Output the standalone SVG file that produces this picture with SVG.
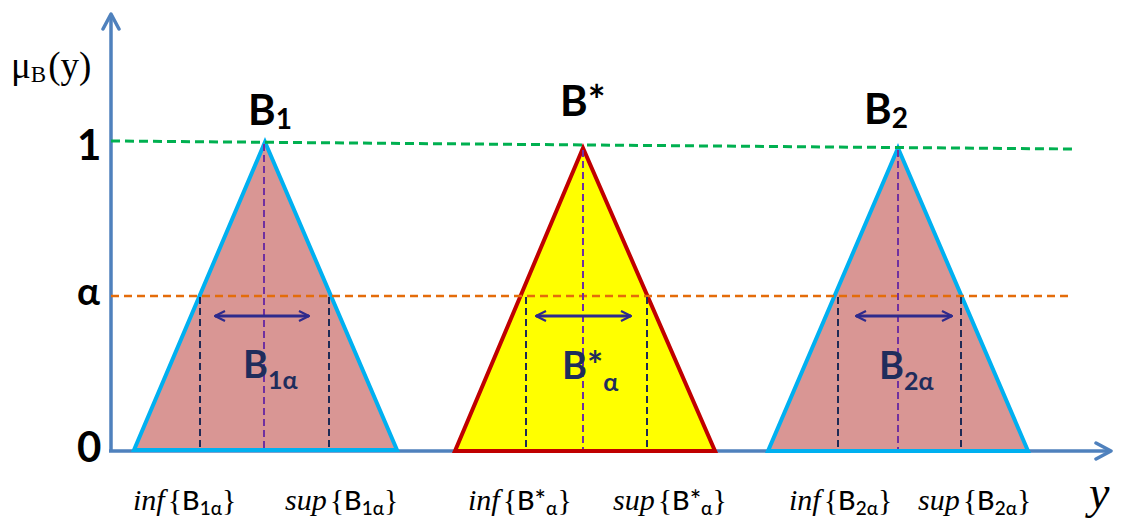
<svg xmlns="http://www.w3.org/2000/svg" width="1121" height="530" viewBox="0 0 1121 530">
<style>
.pink{fill:#d99694;stroke:#00b0f0;stroke-width:4;stroke-linejoin:miter}
.yel{fill:#ffff00;stroke:#c00000;stroke-width:4;stroke-linejoin:miter}
.axis{stroke:#4f81bd;stroke-width:3.5;fill:none}
.green{stroke:#00b050;stroke-width:3;stroke-dasharray:9 5;fill:none}
.orange{stroke:#e46c0a;stroke-width:2.5;stroke-dasharray:8 5;fill:none}
.mid{stroke:#7030a0;stroke-width:2;stroke-dasharray:7 4;fill:none}
.cut{stroke:#1f2a55;stroke-width:2;stroke-dasharray:7 4;fill:none}
.dbl{stroke:#2e2a8c;stroke-width:3;fill:none;marker-start:url(#ah);marker-end:url(#ah)}
.sans{font-family:Lato,"Open Sans",sans-serif;font-weight:bold}
.reg{font-family:Lato,"Open Sans",sans-serif;font-weight:500}
.serif{font-family:"Liberation Serif",serif}
.lab{fill:#000}
.inner{fill:#1f2d5c}
</style>
<defs>
<marker id="ah" viewBox="0 0 12 12" refX="11" refY="6" markerWidth="12" markerHeight="12" markerUnits="userSpaceOnUse" orient="auto-start-reverse">
<path d="M1,1 L11,6 L1,11" fill="none" stroke="#2e2a8c" stroke-width="2.2"/>
</marker>
<marker id="ax" viewBox="0 0 20 20" refX="18" refY="10" markerWidth="20" markerHeight="20" markerUnits="userSpaceOnUse" orient="auto">
<path d="M3,2 L18,10 L3,18" fill="none" stroke="#4f81bd" stroke-width="3.5" stroke-linecap="round" stroke-linejoin="round"/>
</marker>
</defs>

<g id="axes">
<line class="axis" x1="111" y1="451" x2="111" y2="14" marker-end="url(#ax)"/>
<line class="axis" x1="109" y1="451" x2="1111" y2="451" marker-end="url(#ax)"/>
</g>

<g id="B1">
<polygon class="pink" points="265,142 134,450 397,450"/>
</g>
<g id="Bstar">
<polygon class="yel" points="583,148 455,451 715,451"/>
</g>
<g id="B2">
<polygon class="pink" points="898,148 768,451 1028,451"/>
</g>

<g id="connectors">
<line class="green" x1="111" y1="141" x2="1073" y2="149"/>
<line class="orange" x1="111" y1="296" x2="1073" y2="296"/>
<line class="mid" x1="264" y1="144" x2="264" y2="449"/>
<line class="mid" x1="583" y1="150" x2="583" y2="449"/>
<line class="mid" x1="898" y1="150" x2="898" y2="449"/>
<line class="cut" x1="200" y1="297" x2="200" y2="449"/>
<line class="cut" x1="329" y1="297" x2="329" y2="449"/>
<line class="cut" x1="526" y1="297" x2="526" y2="449"/>
<line class="cut" x1="647" y1="297" x2="647" y2="449"/>
<line class="cut" x1="838" y1="297" x2="838" y2="449"/>
<line class="cut" x1="961" y1="297" x2="961" y2="449"/>
<line class="dbl" x1="215" y1="316" x2="309" y2="316"/>
<line class="dbl" x1="536" y1="316" x2="631" y2="316"/>
<line class="dbl" x1="856" y1="316" x2="952" y2="316"/>
</g>

<g id="axis-labels">
<text class="serif lab" x="11" y="78" font-size="37">μ<tspan font-size="23" dy="4">B</tspan><tspan dy="-4" dx="2">(y)</tspan></text>
<text class="sans lab" x="77" y="160" font-size="42">1</text>
<text class="sans lab" x="77" y="305" font-size="38">α</text>
<text class="sans lab" x="77" y="462" font-size="42">0</text>
<text class="serif lab" x="1089" y="508" font-size="46" font-style="italic">y</text>
</g>

<g id="titles">
<text class="sans lab" x="248" y="125" font-size="42">B<tspan font-size="28" dy="4">1</tspan></text>
<text class="sans lab" x="560" y="116" font-size="42">B*</text>
<text class="sans lab" x="864" y="124" font-size="42">B<tspan font-size="28" dy="4">2</tspan></text>
</g>

<g id="inner-labels">
<text class="sans inner" x="243" y="378" font-size="38">B<tspan font-size="25" dy="11">1α</tspan></text>
<text class="sans inner" x="562" y="379" font-size="38">B*<tspan font-size="25" dy="12">α</tspan></text>
<text class="sans inner" x="879" y="379" font-size="38">B<tspan font-size="25" dy="11">2α</tspan></text>
</g>

<g id="bottom-labels">
<text class="lab" x="133" y="510" font-size="30"><tspan class="serif" font-style="italic">inf</tspan><tspan class="serif" dx="3">{</tspan><tspan class="reg" font-size="27">B</tspan><tspan class="reg" font-size="19" dy="5">1α</tspan><tspan class="serif" dy="-5">}</tspan></text>
<text class="lab" x="285" y="510" font-size="30"><tspan class="serif" font-style="italic">sup</tspan><tspan class="serif" dx="3">{</tspan><tspan class="reg" font-size="27">B</tspan><tspan class="reg" font-size="19" dy="5">1α</tspan><tspan class="serif" dy="-5">}</tspan></text>
<text class="lab" x="468" y="510" font-size="30"><tspan class="serif" font-style="italic">inf</tspan><tspan class="serif" dx="3">{</tspan><tspan class="reg" font-size="27">B*</tspan><tspan class="reg" font-size="19" dy="5">α</tspan><tspan class="serif" dy="-5">}</tspan></text>
<text class="lab" x="613" y="510" font-size="30"><tspan class="serif" font-style="italic">sup</tspan><tspan class="serif" dx="3">{</tspan><tspan class="reg" font-size="27">B*</tspan><tspan class="reg" font-size="19" dy="5">α</tspan><tspan class="serif" dy="-5">}</tspan></text>
<text class="lab" x="789" y="510" font-size="30"><tspan class="serif" font-style="italic">inf</tspan><tspan class="serif" dx="3">{</tspan><tspan class="reg" font-size="27">B</tspan><tspan class="reg" font-size="19" dy="5">2α</tspan><tspan class="serif" dy="-5">}</tspan></text>
<text class="lab" x="918" y="510" font-size="30"><tspan class="serif" font-style="italic">sup</tspan><tspan class="serif" dx="3">{</tspan><tspan class="reg" font-size="27">B</tspan><tspan class="reg" font-size="19" dy="5">2α</tspan><tspan class="serif" dy="-5">}</tspan></text>
</g>
</svg>
